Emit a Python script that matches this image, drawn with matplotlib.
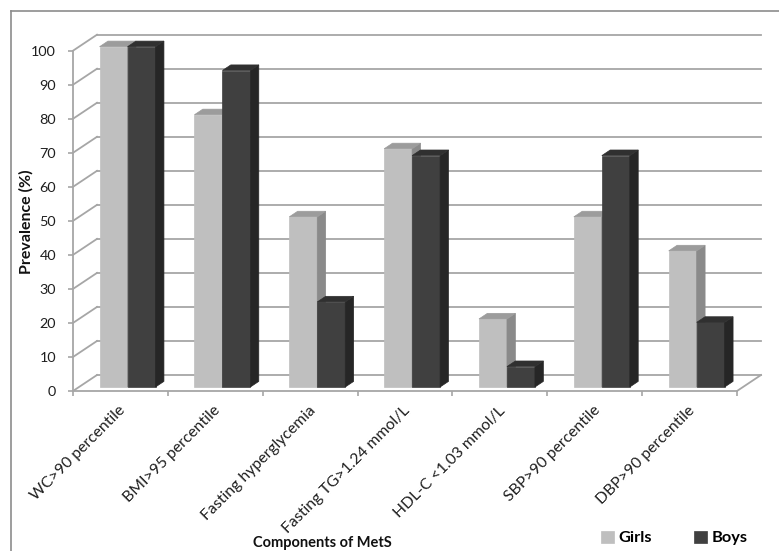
import matplotlib
matplotlib.use("Agg")
import matplotlib.pyplot as plt
from matplotlib.patches import Polygon
from matplotlib.lines import Line2D

plt.rcParams["font.family"] = ["Lato", "DejaVu Sans"]

categories = ["WC>90 percentile", "BMI>95 percentile", "Fasting hyperglycemia",
              "Fasting TG>1.24 mmol/L", "HDL-C <1.03 mmol/L", "SBP>90 percentile",
              "DBP>90 percentile"]
girls = [100, 80, 50, 70, 20, 50, 40]
boys = [100, 93, 25, 68, 6, 68, 19]
y_ticks = list(range(0, 101, 10))

W, H = 779, 551
fig = plt.figure(figsize=(W / 100, H / 100), dpi=100)
fig.patch.set_facecolor("white")


def fx(px):
    return px / W


def fy(py):
    return 1 - py / H


# front plane of the 3-D box
ax = fig.add_axes([fx(73), fy(391), fx(737) - fx(73), fy(50.7) - fy(391)])
n = len(categories)
ax.set_xlim(0, n)
ax.set_ylim(0, 100)
ax.patch.set_alpha(0)

# depth of the box in data units
DX = 24 / ((737 - 73) / n)
DY = 16 / ((391 - 50.7) / 100)

grid_c = "#a6a6a6"
for v in y_ticks:
    ax.plot([DX, n + DX], [v + DY, v + DY], color=grid_c, lw=1.3, clip_on=False, zorder=1)
    ax.plot([0, DX], [v, v + DY], color=grid_c, lw=1.3, clip_on=False, zorder=1)
ax.plot([n, n + DX], [0, DY], color=grid_c, lw=1.3, clip_on=False, zorder=1)

for s in ["top", "right"]:
    ax.spines[s].set_visible(False)
for s in ["left", "bottom"]:
    ax.spines[s].set_color(grid_c)
    ax.spines[s].set_linewidth(1.3)

text_c = "#1e1e1e"
ax.set_yticks(y_ticks)
ax.set_yticklabels([str(v) for v in y_ticks], fontsize=10.4, color=text_c)
ax.set_xticks(range(n + 1))
ax.set_xticklabels([])
ax.set_xticks([i + 0.48 for i in range(n)], minor=True)
ax.set_xticklabels(categories, minor=True, rotation=45, ha="right",
                   rotation_mode="anchor", fontsize=11.3, color=text_c)
ax.tick_params(axis="both", which="major", color=grid_c, length=3.6, width=1.2)
ax.tick_params(axis="x", which="minor", length=0, pad=9)
ax.tick_params(axis="y", which="major", pad=8.6)

# bars
d0, dd = 0.25, 0.35
bw = 0.295
styles = [
    ("Girls", girls, 0.28, "#bfbfbf", "#8a8a8a", "#9c9c9c"),
    ("Boys", boys, 0.575, "#404040", "#262626", "#303030"),
]
handles = []
for name, vals, off, c_front, c_side, c_top in styles:
    xs = [i + off for i in range(n)]
    bars = ax.bar(xs, vals, width=bw, bottom=d0 * DY, align="edge",
                  color=c_front, edgecolor=c_front, linewidth=0.5,
                  label=name, zorder=3, clip_on=False)
    handles.append(bars)
    for rect, v in zip(bars, vals):
        x0 = rect.get_x()
        x1 = x0 + rect.get_width()
        b = rect.get_y()
        t = b + v
        ex, ey = dd * DX, dd * DY
        side = Polygon([(x1, b), (x1 + ex, b + ey), (x1 + ex, t + ey), (x1, t)],
                       closed=True, facecolor=c_side, edgecolor=c_side, lw=0.5,
                       zorder=3, clip_on=False)
        top = Polygon([(x0, t), (x1, t), (x1 + ex, t + ey), (x0 + ex, t + ey)],
                      closed=True, facecolor=c_top, edgecolor=c_top, lw=0.5,
                      zorder=3, clip_on=False)
        ax.add_patch(side)
        ax.add_patch(top)

fig.text(fx(26), fy(222), "Prevalence (%)", rotation=90, ha="center", va="center",
         fontsize=11.5, fontweight="bold", color="#111111")
fig.text(fx(322), fy(543), "Components of MetS", ha="center", va="center",
         fontsize=10.5, fontweight="bold", color="#111111")

fig.legend(handles=handles, labels=["Girls", "Boys"], ncol=2, frameon=False,
           loc="center left", bbox_to_anchor=(fx(586), fy(538)),
           handlelength=0.8, handleheight=0.8, handletextpad=0.25,
           columnspacing=2.6, prop={"weight": "bold", "size": 11.8})

# outer chart frame
fig.add_artist(Line2D([fx(11), fx(11)], [fy(11), 0], color="#8c8c8c", lw=1.2))
fig.add_artist(Line2D([fx(11), 1], [fy(11), fy(11)], color="#8c8c8c", lw=1.2))

fig.savefig("out.png", dpi=100)
